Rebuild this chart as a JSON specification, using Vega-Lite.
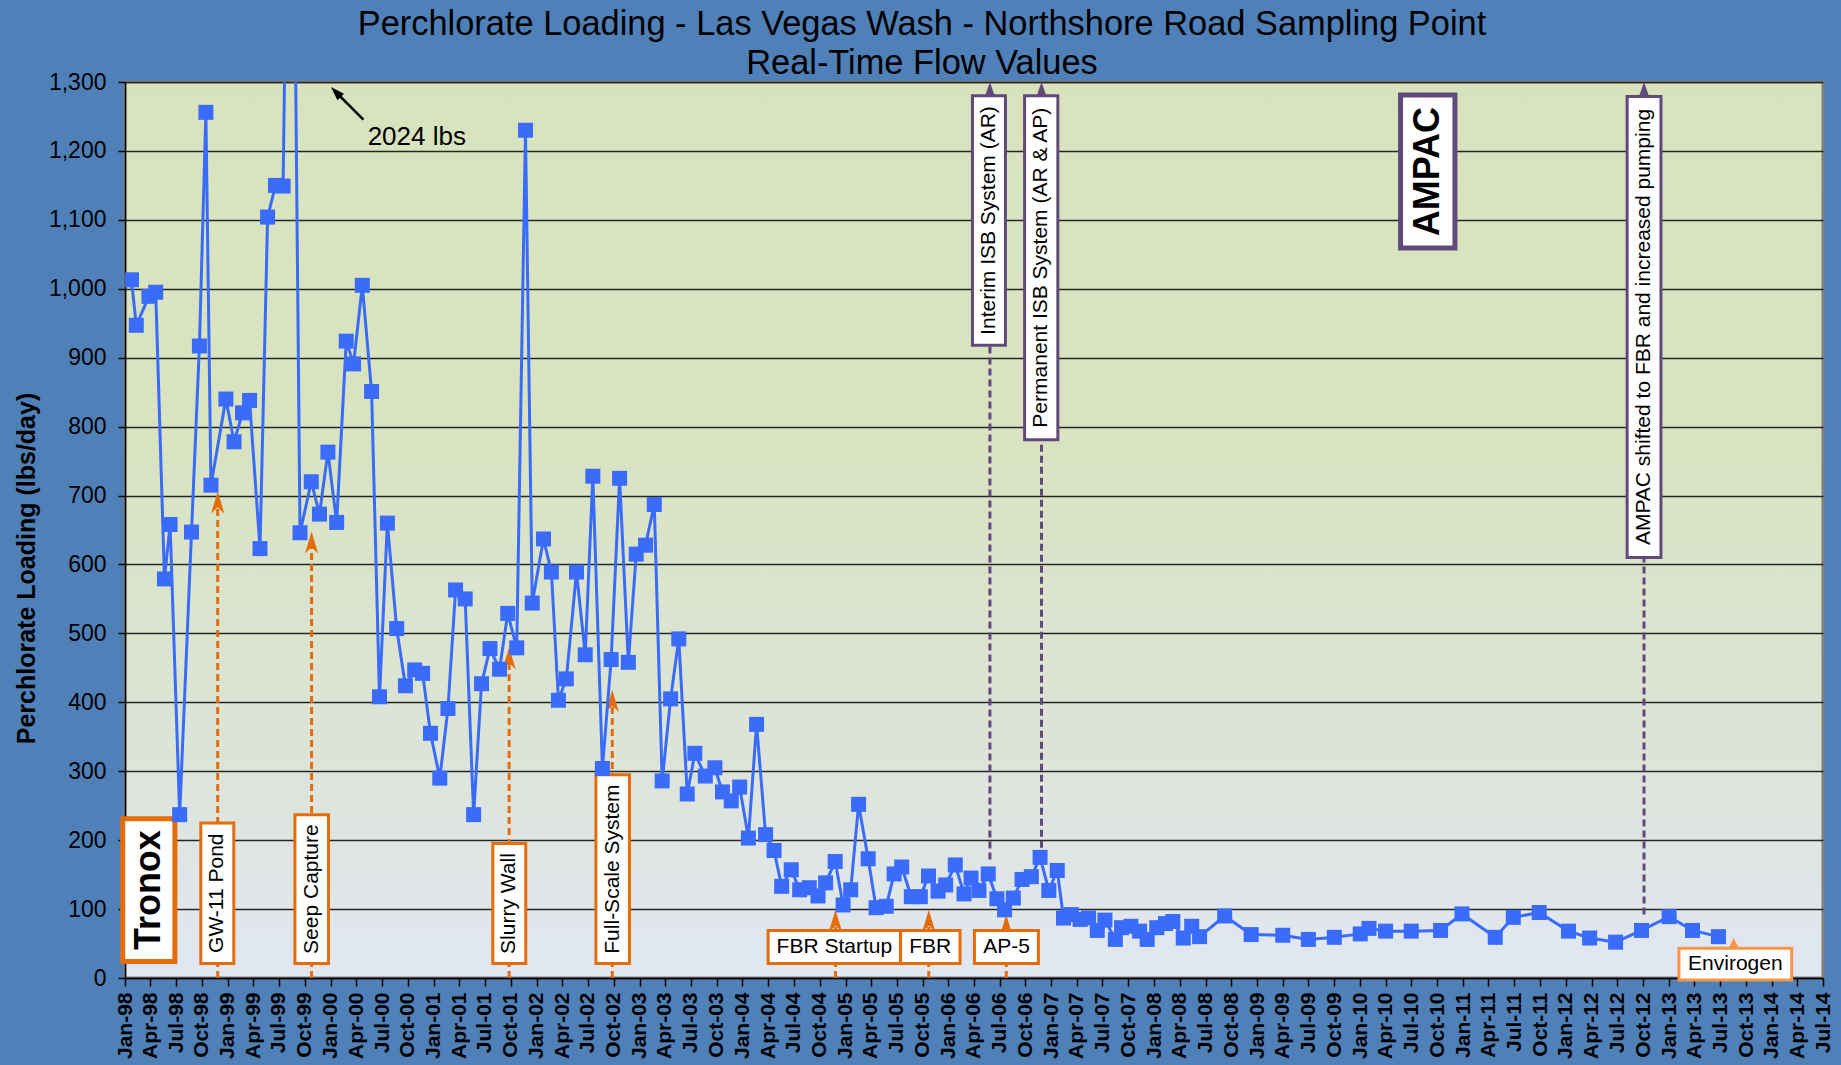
{
  "$schema": "https://vega.github.io/schema/vega-lite/v6.json",
  "width": 1698,
  "height": 896,
  "autosize": {"type": "none"},
  "padding": {"left": 125, "top": 82, "right": 18, "bottom": 87},
  "background": "#4f80b8",
  "title": {
    "text": ["Perchlorate Loading - Las Vegas Wash - Northshore Road Sampling Point", "Real-Time Flow Values"],
    "font": "Liberation Sans", "fontSize": 34.4, "fontWeight": "normal", "color": "#000000",
    "anchor": "middle", "frame": "group", "dx": -52, "offset": -10, "lineHeight": 39
  },
  "view": {
    "fill": {"gradient": "linear", "x1": 0, "y1": 0, "x2": 0, "y2": 1,
      "stops": [{"offset": 0, "color": "#d8e3be"}, {"offset": 0.4, "color": "#d9e3c1"}, {"offset": 0.75, "color": "#dce4d8"}, {"offset": 1, "color": "#e1e7f2"}]},
    "stroke": "#808080", "strokeWidth": 3
  },
  "config": {"font": "Liberation Sans"},
  "datasets": {
    "series": [
      {"d":"1998-01-24","v":1013},{"d":"1998-02-10","v":947},{"d":"1998-03-27","v":989},{"d":"1998-04-20","v":995},
      {"d":"1998-05-21","v":579},{"d":"1998-06-10","v":658},{"d":"1998-07-14","v":237},{"d":"1998-08-25","v":647},
      {"d":"1998-09-22","v":917},{"d":"1998-10-15","v":1256},{"d":"1998-11-02","v":715},{"d":"1998-12-25","v":840},
      {"d":"1999-01-23","v":778},{"d":"1999-02-22","v":820},{"d":"1999-03-19","v":838},{"d":"1999-04-25","v":623},
      {"d":"1999-05-22","v":1104},{"d":"1999-06-19","v":1150},{"d":"1999-07-16","v":1149},{"d":"1999-08-13","v":2024},
      {"d":"1999-09-14","v":646},{"d":"1999-10-24","v":720},{"d":"1999-11-22","v":673},{"d":"1999-12-22","v":763},
      {"d":"2000-01-22","v":661},{"d":"2000-02-25","v":924},{"d":"2000-03-22","v":891},{"d":"2000-04-22","v":1005},
      {"d":"2000-05-25","v":851},{"d":"2000-06-22","v":408},{"d":"2000-07-20","v":660},{"d":"2000-08-22","v":507},
      {"d":"2000-09-22","v":424},{"d":"2000-10-25","v":447},{"d":"2000-11-22","v":442},{"d":"2000-12-20","v":355},
      {"d":"2001-01-22","v":290},{"d":"2001-02-20","v":391},{"d":"2001-03-19","v":563},{"d":"2001-04-22","v":550},
      {"d":"2001-05-22","v":237},{"d":"2001-06-19","v":427},{"d":"2001-07-19","v":478},{"d":"2001-08-22","v":448},
      {"d":"2001-09-20","v":529},{"d":"2001-10-22","v":479},{"d":"2001-11-22","v":1230},{"d":"2001-12-16","v":544},
      {"d":"2002-01-25","v":637},{"d":"2002-02-22","v":589},{"d":"2002-03-19","v":403},{"d":"2002-04-16","v":434},
      {"d":"2002-05-22","v":589},{"d":"2002-06-22","v":469},{"d":"2002-07-19","v":728},{"d":"2002-08-22","v":304},
      {"d":"2002-09-22","v":462},{"d":"2002-10-22","v":725},{"d":"2002-11-22","v":458},{"d":"2002-12-20","v":615},
      {"d":"2003-01-22","v":628},{"d":"2003-02-22","v":687},{"d":"2003-03-22","v":286},{"d":"2003-04-21","v":405},
      {"d":"2003-05-20","v":492},{"d":"2003-06-19","v":267},{"d":"2003-07-16","v":326},{"d":"2003-08-22","v":293},
      {"d":"2003-09-25","v":305},{"d":"2003-10-22","v":270},{"d":"2003-11-22","v":257},{"d":"2003-12-22","v":277},
      {"d":"2004-01-22","v":203},{"d":"2004-02-20","v":368},{"d":"2004-03-23","v":208},{"d":"2004-04-22","v":185},
      {"d":"2004-05-19","v":133},{"d":"2004-06-22","v":157},{"d":"2004-07-22","v":128},{"d":"2004-08-25","v":131},
      {"d":"2004-09-25","v":119},{"d":"2004-10-22","v":138},{"d":"2004-11-25","v":169},{"d":"2004-12-23","v":106},
      {"d":"2005-01-19","v":128},{"d":"2005-02-16","v":252},{"d":"2005-03-22","v":173},{"d":"2005-04-19","v":102},
      {"d":"2005-05-25","v":104},{"d":"2005-06-22","v":151},{"d":"2005-07-19","v":161},{"d":"2005-08-22","v":118},
      {"d":"2005-09-23","v":118},{"d":"2005-10-22","v":148},{"d":"2005-11-25","v":126},{"d":"2005-12-22","v":135},
      {"d":"2006-01-25","v":164},{"d":"2006-02-25","v":122},{"d":"2006-03-22","v":145},{"d":"2006-04-19","v":127},
      {"d":"2006-05-22","v":151},{"d":"2006-06-22","v":115},{"d":"2006-07-19","v":99},{"d":"2006-08-19","v":116},
      {"d":"2006-09-19","v":143},{"d":"2006-10-22","v":147},{"d":"2006-11-22","v":175},{"d":"2006-12-23","v":127},
      {"d":"2007-01-22","v":156},{"d":"2007-02-13","v":87},{"d":"2007-03-13","v":92},{"d":"2007-04-13","v":85},
      {"d":"2007-05-13","v":87},{"d":"2007-06-13","v":69},{"d":"2007-07-10","v":84},{"d":"2007-08-16","v":56},
      {"d":"2007-09-07","v":73},{"d":"2007-10-10","v":75},{"d":"2007-11-10","v":68},{"d":"2007-12-07","v":56},
      {"d":"2008-01-10","v":73},{"d":"2008-02-10","v":79},{"d":"2008-03-07","v":82},{"d":"2008-04-13","v":58},
      {"d":"2008-05-13","v":75},{"d":"2008-06-10","v":60},{"d":"2008-09-07","v":90},{"d":"2008-12-10","v":63},
      {"d":"2009-04-01","v":62},{"d":"2009-07-01","v":56},{"d":"2009-10-01","v":59},{"d":"2010-01-01","v":64},
      {"d":"2010-02-01","v":72},{"d":"2010-04-01","v":68},{"d":"2010-07-01","v":68},{"d":"2010-10-13","v":69},
      {"d":"2010-12-28","v":93},{"d":"2011-04-25","v":59},{"d":"2011-06-28","v":88},{"d":"2011-09-28","v":95},
      {"d":"2012-01-10","v":68},{"d":"2012-03-25","v":58},{"d":"2012-06-25","v":52},{"d":"2012-09-25","v":69},
      {"d":"2013-01-01","v":89},{"d":"2013-03-25","v":69},{"d":"2013-06-25","v":60}
    ],
    "rules": [
      {"d":"1998-11-26","v":0,"v2":690,"group":"Tronox"},
      {"d":"1999-10-25","v":0,"v2":632,"group":"Tronox"},
      {"d":"2001-09-25","v":0,"v2":463,"group":"Tronox"},
      {"d":"2002-09-26","v":0,"v2":402,"group":"Tronox"},
      {"d":"2004-11-26","v":0,"v2":80,"group":"Tronox"},
      {"d":"2005-10-23","v":0,"v2":80,"group":"Tronox"},
      {"d":"2006-07-25","v":0,"v2":75,"group":"Tronox"},
      {"d":"2006-05-28","v":172,"v2":1285,"group":"AMPAC"},
      {"d":"2006-11-27","v":189,"v2":1285,"group":"AMPAC"},
      {"d":"2012-10-04","v":92,"v2":1285,"group":"AMPAC"}
    ],
    "heads": [
      {"d":"1998-11-26","tip":706,"group":"Tronox"},
      {"d":"1999-10-25","tip":648,"group":"Tronox"},
      {"d":"2001-09-25","tip":480,"group":"Tronox"},
      {"d":"2002-09-26","tip":418,"group":"Tronox"},
      {"d":"2004-11-26","tip":99,"group":"Tronox"},
      {"d":"2005-10-23","tip":99,"group":"Tronox"},
      {"d":"2006-07-25","tip":92,"group":"Tronox"},
      {"d":"2006-05-28","tip":1300,"group":"AMPAC"},
      {"d":"2006-11-27","tip":1300,"group":"AMPAC"},
      {"d":"2012-10-04","tip":1300,"group":"AMPAC"},
      {"d":"2013-08-18","tip":58,"group":"Envirogen"}
    ],
    "vlabels": [
      {"label":"GW-11 Pond","group":"Tronox","d":"1998-09-27","d2":"1999-01-22","v":21,"v2":225,"dm":"1998-11-25","vm":123},
      {"label":"Seep Capture","group":"Tronox","d":"1999-08-27","d2":"1999-12-24","v":21,"v2":237,"dm":"1999-10-26","vm":129},
      {"label":"Slurry Wall","group":"Tronox","d":"2001-07-29","d2":"2001-11-23","v":21,"v2":195,"dm":"2001-09-26","vm":108},
      {"label":"Full-Scale System","group":"Tronox","d":"2002-07-30","d2":"2002-11-26","v":21,"v2":295,"dm":"2002-09-28","vm":158},
      {"label":"Interim ISB System (AR)","group":"AMPAC","d":"2006-03-27","d2":"2006-07-22","v":918,"v2":1280,"dm":"2006-05-25","vm":1099},
      {"label":"Permanent ISB System (AR & AP)","group":"AMPAC","d":"2006-09-28","d2":"2007-01-24","v":781,"v2":1280,"dm":"2006-11-26","vm":1030.5},
      {"label":"AMPAC shifted to FBR and increased pumping","group":"AMPAC","d":"2012-08-05","d2":"2012-12-03","v":610,"v2":1279,"dm":"2012-10-04","vm":944.5}
    ],
    "hlabels": [
      {"label":"FBR Startup","group":"Tronox","d":"2004-04-01","d2":"2005-07-15","v":21,"v2":69,"dm":"2004-11-22","vm":45},
      {"label":"FBR","group":"Tronox","d":"2005-07-15","d2":"2006-02-11","v":21,"v2":69,"dm":"2005-10-28","vm":45},
      {"label":"AP-5","group":"Tronox","d":"2006-04-03","d2":"2006-11-16","v":21,"v2":69,"dm":"2006-07-26","vm":45},
      {"label":"Envirogen","group":"Envirogen","d":"2013-02-05","d2":"2014-03-12","v":-3,"v2":43,"dm":"2013-08-24","vm":20}
    ],
    "owners": [
      {"label":"Tronox","group":"Tronox","d":"1997-12-24","d2":"1998-06-27","v":24,"v2":231,"dm":"1998-03-26","vm":127.5},
      {"label":"AMPAC","group":"AMPAC","d":"2010-05-24","d2":"2010-12-03","v":1059,"v2":1281,"dm":"2010-08-29","vm":1170}
    ],
    "callout": [
      {"d":"2000-04-26","v":1245.5,"d2":"2000-01-19","v2":1285.5,"label":"2024 lbs","dt":"2000-05-11","vt":1209}
    ]
  },
  "encoding": {
    "x": {
      "field": "d", "type": "temporal",
      "scale": {"domain": ["1998-01-01T00:00:00", "2014-07-01T00:00:00"], "nice": false},
      "axis": {
        "title": null, "format": "%b-%y", "tickCount": {"interval": "month", "step": 3},
        "labelAngle": 270, "labelFontSize": 21, "labelFontWeight": "bold", "labelColor": "#000000",
        "labelFlush": false, "labelOverlap": false, "labelPadding": 6, "labelBound": false,
        "tickSize": 8, "tickColor": "#000000", "tickWidth": 1.5,
        "domainColor": "#000000", "domainWidth": 1.5, "grid": false
      }
    },
    "y": {
      "field": "v", "type": "quantitative",
      "scale": {"domain": [0, 1300], "nice": false, "zero": true},
      "axis": {
        "title": "Perchlorate Loading (lbs/day)", "titleFontSize": 25, "titleFontWeight": "bold", "titleColor": "#000000",
        "titlePadding": 9, "titleY": 486,
        "values": [0,100,200,300,400,500,600,700,800,900,1000,1100,1200,1300], "format": ",d",
        "labelFontSize": 23, "labelColor": "#000000", "labelPadding": 12,
        "tickSize": 7, "tickColor": "#000000", "tickWidth": 1.5,
        "domainColor": "#000000", "domainWidth": 1.5,
        "grid": true, "gridColor": "#262626", "gridWidth": 1.3
      }
    }
  },
  "layer": [
    {
      "data": {"name": "rules"},
      "mark": {"type": "rule", "strokeWidth": 3, "strokeDash": [7, 4]},
      "encoding": {
        "y2": {"field": "v2"},
        "color": {"field": "group", "type": "nominal", "legend": null,
          "scale": {"domain": ["Tronox", "AMPAC", "Envirogen"], "range": ["#e46c0a", "#604a7b", "#f79646"]}}
      }
    },
    {
      "data": {"name": "heads"},
      "transform": [{"filter": {"field": "group", "equal": "Tronox"}}],
      "mark": {"type": "point", "filled": true, "opacity": 1, "shape": "M0,-1L0.6,1L0,0.45L-0.6,1Z", "size": 484, "yOffset": 11},
      "encoding": {
        "y": {"field": "tip", "type": "quantitative"},
        "color": {"field": "group", "type": "nominal", "legend": null}
      }
    },
    {
      "data": {"name": "heads"},
      "transform": [{"filter": {"field": "group", "equal": "AMPAC"}}],
      "mark": {"type": "point", "filled": true, "opacity": 1, "shape": "M0,-1L0.7,1L-0.7,1Z", "size": 196, "yOffset": 7},
      "encoding": {
        "y": {"field": "tip", "type": "quantitative"},
        "color": {"field": "group", "type": "nominal", "legend": null}
      }
    },
    {
      "data": {"name": "heads"},
      "transform": [{"filter": {"field": "group", "equal": "Envirogen"}}],
      "mark": {"type": "point", "filled": true, "opacity": 1, "shape": "M0,-1L1,1L-1,1Z", "size": 100, "yOffset": 5},
      "encoding": {
        "y": {"field": "tip", "type": "quantitative"},
        "color": {"field": "group", "type": "nominal", "legend": null}
      }
    },
    {
      "data": {"name": "vlabels"},
      "mark": {"type": "rect", "fill": "#ffffff", "strokeWidth": 3},
      "encoding": {
        "x2": {"field": "d2"}, "y2": {"field": "v2"},
        "stroke": {"field": "group", "type": "nominal", "legend": null,
          "scale": {"domain": ["Tronox", "AMPAC", "Envirogen"], "range": ["#e46c0a", "#604a7b", "#f79646"]}}
      }
    },
    {
      "data": {"name": "hlabels"},
      "mark": {"type": "rect", "fill": "#ffffff", "strokeWidth": 3},
      "encoding": {
        "x2": {"field": "d2"}, "y2": {"field": "v2"},
        "stroke": {"field": "group", "type": "nominal", "legend": null}
      }
    },
    {
      "data": {"name": "owners"},
      "mark": {"type": "rect", "fill": "#ffffff", "strokeWidth": 5},
      "encoding": {
        "x2": {"field": "d2"}, "y2": {"field": "v2"},
        "stroke": {"field": "group", "type": "nominal", "legend": null}
      }
    },
    {
      "data": {"name": "vlabels"},
      "mark": {"type": "text", "angle": 270, "align": "center", "baseline": "middle", "fontSize": 21, "color": "#000000"},
      "encoding": {
        "x": {"field": "dm", "type": "temporal"},
        "y": {"field": "vm", "type": "quantitative"},
        "text": {"field": "label"}
      }
    },
    {
      "data": {"name": "hlabels"},
      "mark": {"type": "text", "align": "center", "baseline": "middle", "fontSize": 21, "color": "#000000"},
      "encoding": {
        "x": {"field": "dm", "type": "temporal"},
        "y": {"field": "vm", "type": "quantitative"},
        "text": {"field": "label"}
      }
    },
    {
      "data": {"name": "owners"},
      "mark": {"type": "text", "angle": 270, "align": "center", "baseline": "middle", "fontSize": 36, "fontWeight": "bold", "color": "#000000"},
      "encoding": {
        "x": {"field": "dm", "type": "temporal"},
        "y": {"field": "vm", "type": "quantitative"},
        "text": {"field": "label"}
      }
    },
    {
      "data": {"name": "series"},
      "mark": {"type": "line", "clip": true, "color": "#3a6bfa", "strokeWidth": 3},
      "encoding": {}
    },
    {
      "data": {"name": "series"},
      "mark": {"type": "point", "clip": true, "shape": "square", "filled": true, "opacity": 1, "size": 225, "color": "#3a6bfa"},
      "encoding": {}
    },
    {
      "data": {"name": "callout"},
      "mark": {"type": "rule", "color": "#000000", "strokeWidth": 2.5},
      "encoding": {"x2": {"field": "d2"}, "y2": {"field": "v2"}}
    },
    {
      "data": {"name": "callout"},
      "mark": {"type": "point", "filled": true, "opacity": 1, "color": "#000000", "shape": "M0,-1L0.65,1L-0.65,1Z", "size": 196, "angle": 315},
      "encoding": {
        "x": {"field": "d2", "type": "temporal"},
        "y": {"field": "v2", "type": "quantitative"}
      }
    },
    {
      "data": {"name": "callout"},
      "mark": {"type": "text", "align": "left", "baseline": "alphabetic", "fontSize": 26, "color": "#000000"},
      "encoding": {
        "x": {"field": "dt", "type": "temporal"},
        "y": {"field": "vt", "type": "quantitative"},
        "text": {"field": "label"}
      }
    }
  ]
}
